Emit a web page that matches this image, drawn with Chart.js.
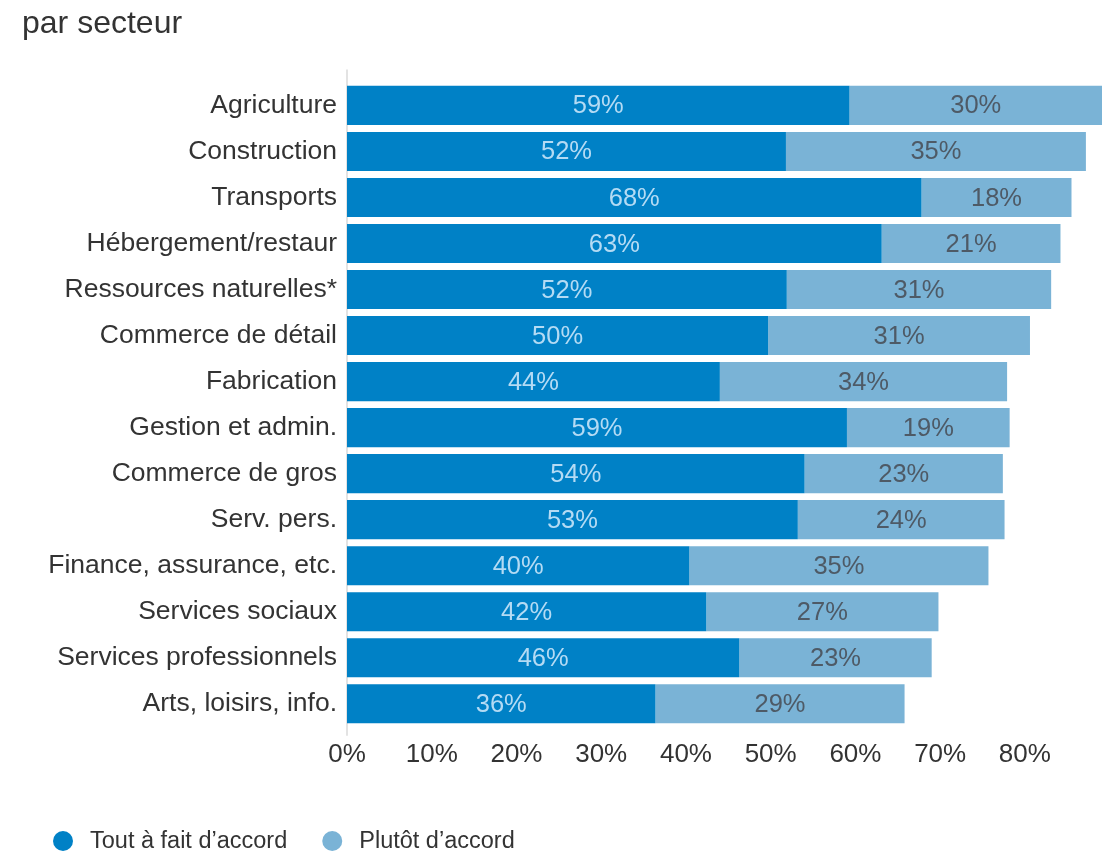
<!DOCTYPE html>
<html>
<head>
<meta charset="utf-8">
<script src="https://cdn.jsdelivr.net/npm/chart.js@4.4.1/dist/chart.umd.min.js"></script>
<style>
  html, body { margin: 0; padding: 0; background: #fff; }
  #wrap { position: relative; width: 1107px; height: 853px; }
</style>
</head>
<body>
<div id="wrap"><canvas id="c" width="1107" height="853"></canvas></div>
<script>
const titleText = "par secteur";
const categories = [
  "Agriculture", "Construction", "Transports", "Hébergement/restaur",
  "Ressources naturelles*", "Commerce de détail", "Fabrication",
  "Gestion et admin.", "Commerce de gros", "Serv. pers.",
  "Finance, assurance, etc.", "Services sociaux", "Services professionnels",
  "Arts, loisirs, info."
];
const seriesNames = ["Tout à fait d’accord", "Plutôt d’accord"];
const toutAFait = [59.3, 51.8, 67.8, 63.1, 51.9, 49.7, 44.0, 59.0, 54.0, 53.2, 40.4, 42.4, 46.3, 36.4];
const plutot   = [29.8, 35.4, 17.7, 21.1, 31.2, 30.9, 33.9, 19.2, 23.4, 24.4, 35.3, 27.4, 22.7, 29.4];
const xTicks = [0, 10, 20, 30, 40, 50, 60, 70, 80];

const FONT = "'Liberation Sans', Arial, Helvetica, sans-serif";
const darkBlue = "#0081c6";
const lightBlue = "#7ab3d6";
const labelColors = ["#b4dbf4", "#4e5a66"];
const maxTotal = Math.max(...toutAFait.map((v, i) => v + plutot[i]));

const valueLabels = {
  id: "valueLabels",
  afterDatasetsDraw(chart) {
    const ctx = chart.ctx;
    ctx.save();
    ctx.font = "25.5px " + FONT;
    ctx.textAlign = "center";
    ctx.textBaseline = "middle";
    chart.data.datasets.forEach((ds, di) => {
      const meta = chart.getDatasetMeta(di);
      ctx.fillStyle = labelColors[di];
      meta.data.forEach((bar, i) => {
        const cx = (bar.x + bar.base) / 2;
        ctx.fillText(Math.round(ds.data[i]) + "%", cx, bar.y + 1);
      });
    });
    ctx.restore();
  }
};

const axisLine = {
  id: "axisLine",
  beforeDatasetsDraw(chart) {
    const { ctx, chartArea } = chart;
    const x0 = chart.scales.x.getPixelForValue(0);
    ctx.save();
    ctx.strokeStyle = "#e3e3e3";
    ctx.lineWidth = 2;
    ctx.beginPath();
    ctx.moveTo(x0, chartArea.top - 13);
    ctx.lineTo(x0, chartArea.bottom + 9);
    ctx.stroke();
    ctx.restore();
  }
};

const customLegend = {
  id: "customLegend",
  afterDraw(chart) {
    const ctx = chart.ctx;
    ctx.save();
    ctx.font = "23.5px " + FONT;
    ctx.textBaseline = "middle";
    ctx.textAlign = "left";
    const y = 841;
    let x = 63;
    chart.data.datasets.forEach((ds, di) => {
      ctx.fillStyle = ds.backgroundColor;
      ctx.beginPath();
      ctx.arc(x, y, 10, 0, Math.PI * 2);
      ctx.fill();
      ctx.fillStyle = "#333";
      ctx.fillText(ds.label, x + 27, y + 1);
      const w = ctx.measureText(ds.label).width;
      x = x + 27 + w + 45;
    });
    ctx.restore();
  }
};

new Chart(document.getElementById("c"), {
  type: "bar",
  data: {
    labels: categories,
    datasets: [
      { label: seriesNames[0], data: toutAFait, backgroundColor: darkBlue, borderWidth: 0 },
      { label: seriesNames[1], data: plutot, backgroundColor: lightBlue, borderWidth: 0 }
    ]
  },
  options: {
    indexAxis: "y",
    responsive: false,
    animation: false,
    devicePixelRatio: 1,
    layout: { padding: { left: 22, right: 5, top: 0, bottom: 71 } },
    datasets: { bar: { barPercentage: 0.85, categoryPercentage: 1.0 } },
    scales: {
      x: {
        stacked: true,
        min: 0,
        max: maxTotal,
        afterBuildTicks(scale) {
          scale.ticks = xTicks.map(v => ({ value: v }));
        },
        grid: { display: false, drawTicks: false },
        border: { display: false },
        ticks: {
          padding: 12,
          color: "#333",
          font: { family: FONT, size: 26 },
          callback: v => v + "%"
        }
      },
      y: {
        stacked: true,
        grid: { display: false, drawTicks: false },
        border: { display: false },
        afterFit(scale) { scale.width = 347 - 22; },
        ticks: {
          padding: 10,
          color: "#333",
          font: { family: FONT, size: 26.5 }
        }
      }
    },
    plugins: {
      legend: { display: false },
      tooltip: { enabled: false },
      title: {
        display: true,
        text: titleText,
        align: "start",
        color: "#333",
        font: { family: FONT, size: 32, weight: "normal" },
        padding: { top: 5, bottom: 39 }
      }
    }
  },
  plugins: [valueLabels, axisLine, customLegend]
});
</script>
</body>
</html>
